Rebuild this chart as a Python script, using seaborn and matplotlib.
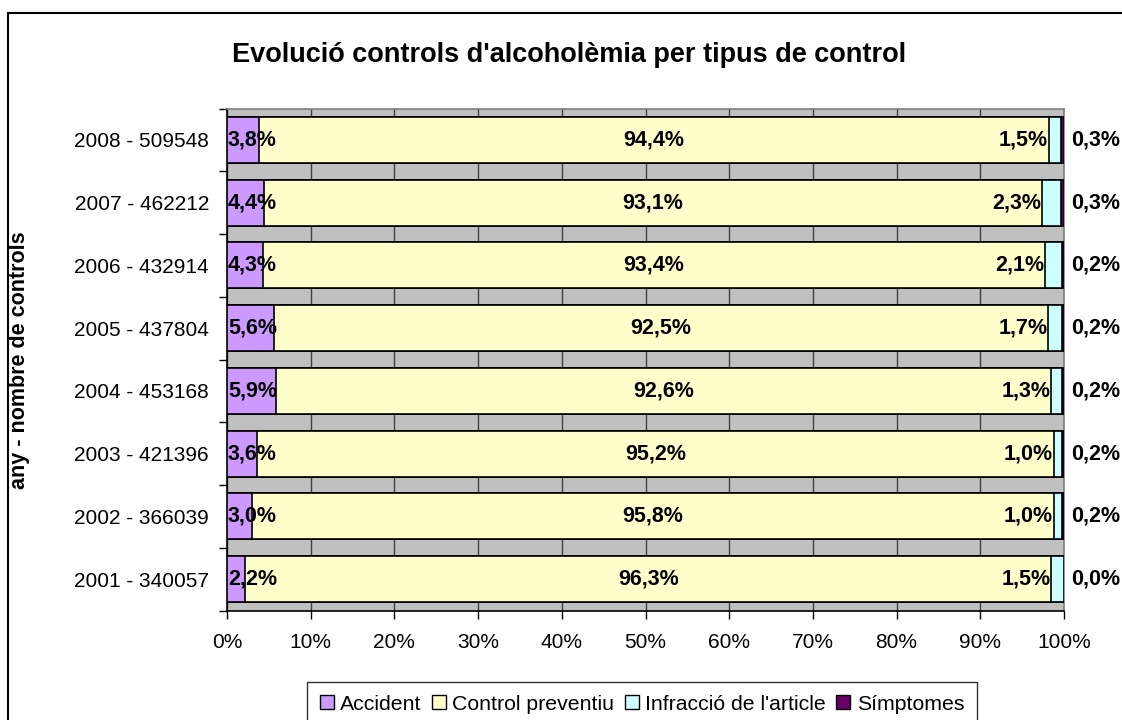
import numpy as np
import pandas as pd
import seaborn as sns
import matplotlib.pyplot as plt
from matplotlib.patches import Patch, Rectangle

# -------------------------------
# Data
# -------------------------------
years = ["2008 - 509548", "2007 - 462212", "2006 - 432914", "2005 - 437804",
         "2004 - 453168", "2003 - 421396", "2002 - 366039", "2001 - 340057"]
accident = [3.8, 4.4, 4.3, 5.6, 5.9, 3.6, 3.0, 2.2]
preventiu = [94.4, 93.1, 93.4, 92.5, 92.6, 95.2, 95.8, 96.3]
infraccio = [1.5, 2.3, 2.1, 1.7, 1.3, 1.0, 1.0, 1.5]
simptomes = [0.3, 0.3, 0.2, 0.2, 0.2, 0.2, 0.2, 0.0]

series = ["Accident", "Control preventiu", "Infracció de l'article", "Símptomes"]
colors = ["#CC99FF", "#FFFFCC", "#CCFFFF", "#660066"]

df = pd.DataFrame({"any": years, "Accident": accident, "Control preventiu": preventiu,
                   "Infracció de l'article": infraccio, "Símptomes": simptomes})
vals = df[series].to_numpy()
pct = vals / vals.sum(axis=1, keepdims=True) * 100
cum = np.cumsum(pct, axis=1)

# -------------------------------
# Plot
# -------------------------------
sns.set_theme(style="white")
plt.rcParams['font.family'] = ['Liberation Sans', 'DejaVu Sans']
plt.rcParams['text.color'] = 'black'
plt.rcParams['xtick.color'] = 'black'
plt.rcParams['ytick.color'] = 'black'
plt.rcParams['axes.labelcolor'] = 'black'

fig = plt.figure(figsize=(11.22, 7.2), dpi=100)
W, H = 1122, 720
ax = fig.add_axes([227 / W, 1 - 610.5 / H, (1064 - 227) / W, (610.5 - 108.5) / H])
ax.set_facecolor("#C0C0C0")

# stacked bars: draw cumulative totals from the widest down
for i in range(3, -1, -1):
    plot_df = pd.DataFrame({"any": years, "val": cum[:, i]})
    sns.barplot(data=plot_df, x="val", y="any", color=colors[i], orient="h",
                width=0.73, edgecolor="black", linewidth=1.2, saturation=1, ax=ax, zorder=3)

ax.set_xlim(0, 100)
ax.set_ylim(7.5, -0.5)
ax.set_xticks(np.arange(0, 101, 10))
ax.set_xticklabels([f"{v}%" for v in range(0, 101, 10)], fontsize=15)
ax.set_yticks(range(8))
ax.set_yticklabels(years, fontsize=15)
ax.set_yticks(np.arange(-0.5, 8, 1), minor=True)
ax.tick_params(axis="y", which="major", length=0, pad=13)
ax.tick_params(axis="y", which="minor", length=6, width=1, color="black", direction="out", left=True)
ax.tick_params(axis="x", which="major", length=6, width=1, color="black", direction="out",
               bottom=True, pad=10)
ax.xaxis.grid(True, color="#404040", linewidth=1, zorder=0)
ax.set_axisbelow(True)
ax.set_xlabel("")
ax.set_ylabel("")

for s in ["left", "bottom"]:
    ax.spines[s].set_color("black")
    ax.spines[s].set_linewidth(1.2)
for s in ["top", "right"]:
    ax.spines[s].set_color("#808080")
    ax.spines[s].set_linewidth(1.2)

# data labels
lbl = lambda v: f"{v:.1f}%".replace(".", ",")
for r in range(len(years)):
    ax.text(0.1, r, lbl(accident[r]), ha="left", va="center", fontsize=15.5,
            fontweight="bold", zorder=5)
    ax.text(cum[r, 0] + pct[r, 1] / 2, r, lbl(preventiu[r]), ha="center", va="center",
            fontsize=15.5, fontweight="bold", zorder=5)
    ax.text(cum[r, 1] - 0.1, r, lbl(infraccio[r]), ha="right", va="center", fontsize=15.5,
            fontweight="bold", zorder=5)
    ax.text(100.9, r, lbl(simptomes[r]), ha="left", va="center", fontsize=15.5,
            fontweight="bold", clip_on=False, zorder=5)

fig.text(20 / W, 1 - 360 / H, "any - nombre de controls", rotation=90, ha="center",
         va="center", fontsize=15.5, fontweight="bold")

fig.text(0.5 * (233 + 905) / W, 1 - 55 / H, "Evolució controls d'alcoholèmia per tipus de control",
         ha="center", va="center", fontsize=19.5, fontweight="bold")

# outer chart frame
fig.patches.append(Rectangle((8 / W, -0.1), 1.2, 1 - 13 / H + 0.1, transform=fig.transFigure,
                             fill=False, edgecolor="black", linewidth=1.5))

handles = [Patch(facecolor=c, edgecolor="black", linewidth=1) for c in colors]
leg = fig.legend(handles, series, loc="upper left", bbox_to_anchor=(307 / W, 1 - 682 / H),
                 ncol=4, frameon=True, fancybox=False, edgecolor="black", fontsize=15.3,
                 handlelength=0.65, handleheight=0.65, handletextpad=0.3, columnspacing=0.5,
                 borderpad=0.6, borderaxespad=0)
leg.get_frame().set_linewidth(1)

fig.savefig("out.png", dpi=100)
